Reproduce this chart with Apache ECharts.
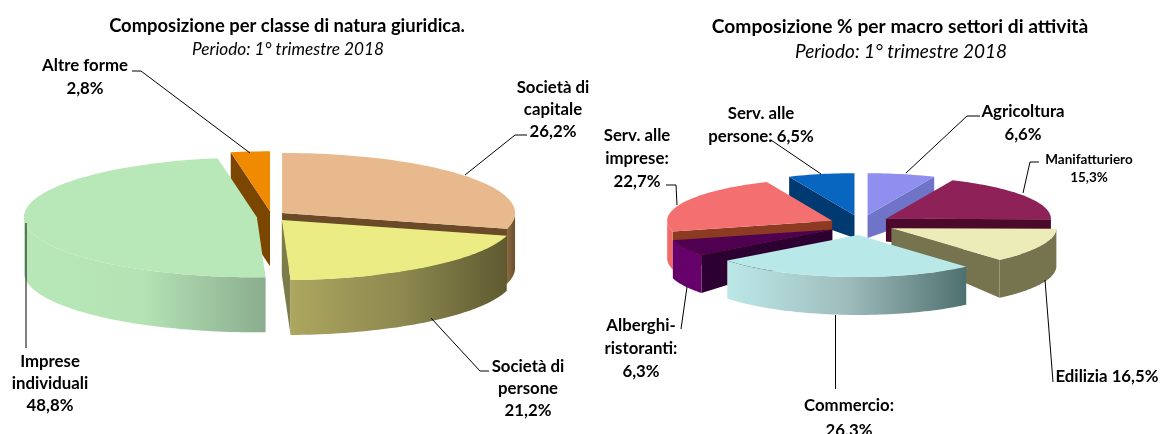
<!DOCTYPE html>
<html><head><meta charset="utf-8">
<style>html,body{margin:0;padding:0;background:#fff}#c{width:1160px;height:434px}</style>
<script src="https://cdn.jsdelivr.net/npm/echarts@6/dist/echarts.min.js"></script>
</head><body><div id="c"></div>
<script>
// ---- data ----
const legalCategories = ['Società di capitale','Società di persone','Imprese individuali','Altre forme'];
const legalValues = [26.2, 21.2, 48.8, 2.8];
const sectorCategories = ['Agricoltura','Manifatturiero','Edilizia','Commercio','Alberghi-ristoranti','Serv. alle imprese','Serv. alle persone'];
const sectorValues = [6.6, 15.3, 16.5, 26.3, 6.3, 22.7, 6.5];

// ---- styles (top, inner wall, outer wall colours) ----
const legalStyle = [
  {top:'#e8b98c', inner:'#6b4a28', wall:['#8a6a42','#6b4f2a']},
  {top:'#ecec84', inner:'#7c7c4a', wall:['#aca65e','#8e8a50','#5f5a30']},
  {top:'#b8e8b8', inner:'#8aad8e', wall:['#b8e8b8','#b4e2b4','#8aad8e']},
  {top:'#f08a00', inner:'#7a4600', wall:['#7a4600','#7a4600']}
];
const sectorStyle = [
  {top:'#8f8ff0', inner:'#6f74c8', wall:['#6f74c8','#6f74c8']},
  {top:'#8e2258', inner:'#4c0a2a', wall:['#6d1a44','#6d1a44']},
  {top:'#ececb8', inner:'#76744f', wall:['#76744f','#76744f']},
  {top:'#b8e8e8', inner:'#4f7070', wall:['#bce8e8','#9fbcbc','#4f7070']},
  {top:'#500050', inner:'#2c0030', wall:['#66006a','#66006a']},
  {top:'#f47070', inner:'#8c3a22', wall:['#f06a6a','#f06a6a']},
  {top:'#0866c0', inner:'#003a70', wall:['#003a70','#003a70']}
];
const legalGeom = {cx:271.3, cy:216.5, rx:233, ry:60, ex:14.6, ey:5.2, h:55, taper:1, warp:5.5, bump:6};
const sectorGeom = {cx:861, cy:225, rx:165, ry:42, ex:32, ey:10, h:38, taper:0.6, warp:0, bump:14};

const RAD = Math.PI/180;
function tiltedPie(values, styles, g){
  const total = values.reduce((a,b)=>a+b,0);
  let acc = 0;
  const rows = values.map(v=>{const r=[v, acc/total*360, (acc+v)/total*360]; acc+=v; return r;});
  return {
    type:'custom', coordinateSystem:'none', silent:true, animation:false, clip:false,
    data: rows,
    renderItem(params, api){
      const a0 = api.value(1), a1 = api.value(2);
      const st = styles[params.dataIndex];
      const mid = (a0+a1)/2*RAD;
      const ox = g.cx + g.ex*Math.sin(mid), oy = g.cy - g.ey*Math.cos(mid);
      const warp = a => a + g.warp*Math.sin(a/2*RAD) + g.bump*Math.exp(-Math.pow((a-90)/30,2));
      const top = (a,r)=>{const t=warp(a)*RAD; return [ox+r*g.rx*Math.sin(t), oy-r*g.ry*Math.cos(t)];};
      const bot = (a,r)=>{const p=top(a,r); return [p[0], p[1]+g.h*(g.taper+(1-g.taper)*r)];};
      const samples = (s,e)=>{const n=Math.max(2,Math.ceil(Math.abs(e-s)/1.5)),o=[];for(let i=0;i<=n;i++)o.push(s+(e-s)*i/n);return o;};
      const order = -Math.cos(mid)*100;
      const children = [];
      const poly = (points, fill, z)=>children.push({type:'polygon', shape:{points}, z2:order+z,
        style:{fill, stroke:null}});
      if (Math.sin(a0*RAD) < 0) poly([top(a0,0),top(a0,1),bot(a0,1),bot(a0,0)], st.inner, 0);
      if (Math.sin(a1*RAD) > 0) poly([top(a1,0),top(a1,1),bot(a1,1),bot(a1,0)], st.inner, 0);
      const vis = samples(a0,a1).filter(a=>{const w=warp(a);return w>=90 && w<=270;});
      if (vis.length > 1) {
        const stops = st.wall.map((c,i)=>({offset:i/(st.wall.length-1), color:c}));
        poly(vis.map(a=>top(a,1)).concat(vis.slice().reverse().map(a=>bot(a,1))),
          new echarts.graphic.LinearGradient(0,0,1,0,stops), 0.1);
      }
      poly([top(a0,0)].concat(samples(a0,a1).map(a=>top(a,1))), st.top, 0.2);
      return {type:'group', children};
    }
  };
}

// ---- annotation layout ----
const FONT = 'Lato, "Open Sans", sans-serif';
const LBL = 16.8;
const labels = [
  {t:'Composizione per classe di natura giuridica.', x:287, y:26, s:18.4, bold:1},
  {t:'Periodo: 1° trimestre 2018', x:288, y:49, s:17.2, it:1},
  {t:'Composizione % per macro settori di attività', x:900, y:27, s:19.2, bold:1},
  {t:'Periodo: 1° trimestre 2018', x:901, y:52, s:19, it:1},
  {t:'Altre forme', x:85, y:66, bold:1},{t:'2,8%', x:85, y:89, bold:1},
  {t:'Società di', x:553, y:88, bold:1},{t:'capitale', x:553, y:110, bold:1},{t:'26,2%', x:553, y:132, bold:1},
  {t:'Società di', x:528, y:367, bold:1},{t:'persone', x:528, y:389, bold:1},{t:'21,2%', x:528, y:411, bold:1},
  {t:'Imprese', x:50, y:362, bold:1},{t:'individuali', x:50, y:384, bold:1},{t:'48,8%', x:50, y:406, bold:1},
  {t:'Serv. alle', x:761, y:114, bold:1},{t:'persone: 6,5%', x:761, y:137, bold:1},
  {t:'Agricoltura', x:1023, y:112, bold:1},{t:'6,6%', x:1023, y:135, bold:1},
  {t:'Manifatturiero', x:1089, y:160, s:13.5, bold:1},{t:'15,3%', x:1089, y:178, s:13.5, bold:1},
  {t:'Serv. alle', x:637, y:136, bold:1},{t:'imprese:', x:637, y:159, bold:1},{t:'22,7%', x:637, y:182, bold:1},
  {t:'Alberghi-', x:641, y:326, bold:1},{t:'ristoranti:', x:641, y:349, bold:1},{t:'6,3%', x:641, y:372, bold:1},
  {t:'Commercio:', x:849, y:406, bold:1},{t:'26,3%', x:849, y:431, bold:1},
  {t:'Edilizia 16,5%', x:1107, y:377, bold:1}
];
const leaders = [
  [[132,71],[141,71],[250,153]],
  [[527,135],[515,135],[465,175]],
  [[489,371],[480,371],[431,318]],
  [[26,223],[26,348]],
  [[771,140],[821,174]],
  [[980,116],[967,116],[906,173]],
  [[1039,162],[1030,162],[1023,193]],
  [[666,185],[676,185],[677,205]],
  [[681,329],[687,287]],
  [[835.5,315],[835.5,389]],
  [[1045,280],[1053,382]]
];

const chart = echarts.init(document.getElementById('c'), null, {renderer:'canvas'});
chart.setOption({
  animation:false,
  series:[ tiltedPie(legalValues, legalStyle, legalGeom), tiltedPie(sectorValues, sectorStyle, sectorGeom) ],
  graphic:{elements:[
    ...leaders.map(p=>({type:'polyline', silent:true, z:50, shape:{points:p}, style:{stroke:'#000', lineWidth:1, fill:null}})),
    ...labels.map(l=>({type:'text', silent:true, z:60, x:l.x, y:l.y, style:{
      text:l.t, align:'center', verticalAlign:'middle', fill:'#000',
      font:(l.it?'italic ':'')+(l.bold?'bold ':'')+(l.s||LBL)+'px '+FONT}}))
  ]}
});
</script></body></html>
